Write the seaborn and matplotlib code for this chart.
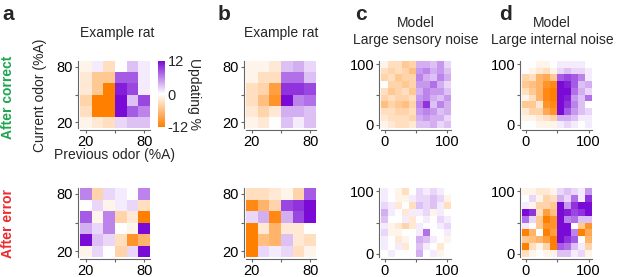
import numpy as np
import matplotlib.pyplot as plt
import seaborn as sns
from matplotlib.colors import LinearSegmentedColormap

# Updating (%) maps, rows listed from top (highest current odor) to bottom
rat_a_correct = [
    [-1, 1, -3, 0, 3, 1],
    [-2, -5, -5, 8, 8, 1],
    [-2, -5, -12, 11, 9, 1],
    [-4, -12, -12, 12, 3, 9],
    [-3, -12, -12, 12, 8, 6],
    [-1, -2, -3, 2, 3, 3],
]
rat_a_error = [
    [6, -4, 2, 1, 0, 6],
    [0, 2, -1, 1, 2, -3],
    [8, -1, 6, -4, -2, -12],
    [4, 2, 6, 0, -1, 12],
    [12, 3, 2, -3, -10, -7],
    [-1, 2, 0, -4, 2, 12],
]
rat_b_correct = [
    [-1, -1, -2, 3, 4, 2],
    [-1, -3, -3, 7, 7, 3],
    [-3, -4, -9, 10, 10, 9],
    [-3, -6, -10, 12, 6, 7],
    [-2, -4, -2, 4, 4, 3],
    [-1, -2, 0, 3, 1, 3],
]
rat_b_error = [
    [-3, -3, -2, -1, -4, 8],
    [-11, -7, -4, 9, 10, 12],
    [2, 4, -11, 4, 9, 12],
    [-12, -2, -7, -2, -2, 0],
    [-12, -6, -7, 3, -2, -3],
    [-12, 2, 1, 2, -3, -1],
]
sensory_correct = [
    [-1, -3, -3, -5, -4, 4, 4, 3, 5, 2],
    [-3, -4, -3, -4, -6, 5, 6, 4, 5, 3],
    [-4, -3, -5, -4, -4, 6, 4, 3, 6, 4],
    [0, -4, -4, -5, -4, 5, 5, 7, 4, 2],
    [-3, -5, -4, -3, -5, 4, 6, 5, 5, 3],
    [-4, -3, -4, -4, -3, 5, 6, 4, 3, 5],
    [-6, -4, -5, -6, -4, 6, 10, 3, 6, 4],
    [-3, -3, -4, -4, -3, 5, 6, 5, 3, 4],
    [-2, -3, -3, -3, -4, 4, 5, 4, 4, 2],
    [-1, -2, -3, -3, -2, 3, 3, 4, 2, 3],
]
sensory_error = [
    [1, 0, -1, -3, 0, 2, 1, 2, 1, 0],
    [1, 0, -1, -1, 1, 2, 2, 3, 2, -1],
    [2, 1, -2, 0, -3, 3, 2, 3, 1, -3],
    [4, 1, 0, -2, 1, 1, 2, -1, 1, 0],
    [3, 0, 0, 1, -2, 0, 1, 0, 2, 1],
    [1, -1, -2, -4, -2, 1, 0, 0, 1, 2],
    [2, -1, -1, 0, 0, 1, 7, 0, 0, 1],
    [1, 0, -2, -1, 0, 4, 3, 1, 0, -1],
    [1, 0, 1, -2, 0, 3, 1, 0, -2, 0],
    [0, 1, 0, 0, 0, 4, 0, 1, -1, 0],
]
internal_correct = [
    [0, 0, -1, -1, 0, 1, 1, 1, 1, 0],
    [0, -1, -2, -3, -1, 2, 3, 2, 2, 1],
    [-4, -3, -7, -8, -5, 8, 9, 8, 6, 1],
    [-5, -6, -7, -10, -11, 12, 11, 8, 3, 4],
    [-3, -5, -7, -11, -12, 12, 12, 7, 4, 2],
    [-1, -3, -7, -11, -12, 12, 11, 5, 3, 7],
    [-5, -5, -2, -10, -11, 12, 10, 6, 3, 0],
    [-2, -4, -4, -8, -10, 12, 8, 5, 3, 2],
    [-1, -1, -2, -3, -4, 4, 4, 3, 1, 1],
    [0, 0, -1, -1, -1, 1, 2, 1, 0, 1],
]
internal_error = [
    [-1, -1, -2, -2, -1, 2, 3, 2, 1, 5],
    [0, 2, -1, -4, -3, 4, 2, 7, 1, 10],
    [1, -1, -4, -4, -5, 12, 5, 10, 12, 12],
    [12, 10, -3, -9, -6, 12, 11, 9, 10, 12],
    [7, 2, -5, -12, -10, 12, 6, 7, 3, 3],
    [1, 0, -5, -10, -10, 12, 12, 0, -5, -10],
    [-12, -7, 0, -12, -9, 12, 12, 6, -12, -8],
    [-5, -6, -7, -9, -12, 12, 10, 8, 0, -7],
    [-12, -3, -1, -4, -12, 8, 7, 3, 1, -4],
    [-3, -1, 0, -1, -1, 3, 3, 1, 2, -1],
]

rat_range = [20, 80]
model_range = [0, 100]
cbar_ticks = [-12, 0, 12]

sns.set_theme(style="white")
plt.rcParams["font.family"] = ["Liberation Sans", "DejaVu Sans"]

cmap = LinearSegmentedColormap.from_list("updating", ["#ff7f00", "#ffffff", "#7a0bd6"])

W, H = 617, 277
fig = plt.figure(figsize=(W / 100, H / 100), dpi=100)


def box(x0, y0, x1, y1):
    # pixel box (top-left origin) -> figure fraction
    return [x0 / W, 1 - y1 / H, (x1 - x0) / W, (y1 - y0) / H]


def txt(x, y, s, **kw):
    fig.text(x / W, 1 - y / H, s, **kw)


def draw(rect, data, rng, cbar_ax=None):
    ax = fig.add_axes(box(*rect))
    n = len(data)
    sns.heatmap(np.array(data), ax=ax, cmap=cmap, vmin=-12, vmax=12,
                cbar=cbar_ax is not None, cbar_ax=cbar_ax,
                xticklabels=False, yticklabels=False)
    lo, hi = rng
    vals = [lo, (lo + hi) / 2, hi]
    labels = [lo, "", hi]
    ax.set_xticks([0.5 + (v - lo) / (hi - lo) * (n - 1) for v in vals])
    ax.set_xticklabels(labels)
    ax.set_yticks([0.5 + (hi - v) / (hi - lo) * (n - 1) for v in vals])
    ax.set_yticklabels(labels, rotation=0)
    for side in ["left", "bottom"]:
        ax.spines[side].set_visible(True)
        ax.spines[side].set_color("#666666")
        ax.spines[side].set_linewidth(0.8)
        ax.spines[side].set_position(("outward", 1.5))
    ax.tick_params(axis="both", direction="out", length=2.5, width=0.8,
                   color="#666666", labelsize=10.5, pad=1, labelcolor="black")
    ax.tick_params(left=True, bottom=True)
    ax.set_xlabel("")
    ax.set_ylabel("")
    return ax


top = (61, 128)
bot = (188, 257)
cols = [(80, 150), (246, 316), (381, 451), (522, 592)]

cax = fig.add_axes(box(158, 61, 165, 127))
draw((cols[0][0], top[0], cols[0][1], top[1]), rat_a_correct, rat_range, cbar_ax=cax)
cax.set_yticks(cbar_ticks)
cax.set_yticklabels([str(t) for t in cbar_ticks])
cax.tick_params(length=0, labelsize=10.5, pad=2)
for s in cax.spines.values():
    s.set_visible(False)

draw((cols[1][0], top[0], cols[1][1], top[1]), rat_b_correct, rat_range)
draw((cols[2][0], top[0], cols[2][1], top[1]), sensory_correct, model_range)
draw((cols[3][0], top[0], cols[3][1], top[1]), internal_correct, model_range)

draw((cols[0][0], bot[0], cols[0][1], bot[1]), rat_a_error, rat_range)
draw((cols[1][0], bot[0], cols[1][1], bot[1]), rat_b_error, rat_range)
draw((cols[2][0], bot[0], cols[2][1], bot[1]), sensory_error, model_range)
draw((cols[3][0], bot[0], cols[3][1], bot[1]), internal_error, model_range)

# panel letters
for x, s in [(2, "a"), (218, "b"), (355, "c"), (499, "d")]:
    txt(x, 20, s, fontsize=15, fontweight="bold", ha="left", va="baseline")

# titles
txt(117, 33, "Example rat", fontsize=10, ha="center", va="center")
txt(281, 33, "Example rat", fontsize=10, ha="center", va="center")
txt(416, 23, "Model", fontsize=10, ha="center", va="center")
txt(416, 40, "Large sensory noise", fontsize=10, ha="center", va="center")
txt(552, 23, "Model", fontsize=10, ha="center", va="center")
txt(552, 40, "Large internal noise", fontsize=10, ha="center", va="center")

# axis labels
txt(40, 95, "Current odor (%A)", fontsize=10, rotation=90, ha="center", va="center")
txt(115, 155, "Previous odor (%A)", fontsize=10, ha="center", va="center")
txt(194, 94, "Updating %", fontsize=10, rotation=270, ha="center", va="center")

# row labels
txt(8, 97, "After correct", fontsize=10, fontweight="bold", color="#1fa64f",
    rotation=90, ha="center", va="center")
txt(8, 224, "After error", fontsize=10, fontweight="bold", color="#ee2b2f",
    rotation=90, ha="center", va="center")

fig.savefig("out.png", dpi=100)
